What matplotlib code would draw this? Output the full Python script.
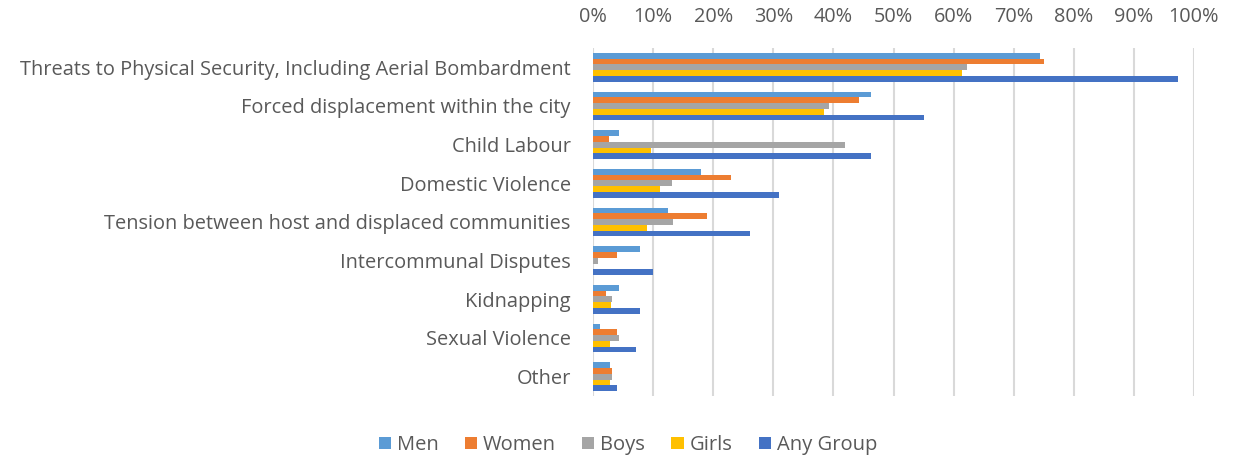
import matplotlib

matplotlib.use("Agg")
import matplotlib.pyplot as plt
import numpy as np
from matplotlib.ticker import PercentFormatter

categories = [
    "Threats to Physical Security, Including Aerial Bombardment",
    "Forced displacement within the city",
    "Child Labour",
    "Domestic Violence",
    "Tension between host and displaced communities",
    "Intercommunal Disputes",
    "Kidnapping",
    "Sexual Violence",
    "Other",
]
series_names = ["Men", "Women", "Boys", "Girls", "Any Group"]
men = [74.3, 46.2, 4.4, 18.0, 12.5, 7.9, 4.3, 1.1, 2.8]
women = [75.0, 44.3, 2.6, 23.0, 19.0, 4.0, 2.2, 4.0, 3.2]
boys = [62.2, 39.2, 42.0, 13.1, 13.3, 0.9, 3.1, 4.4, 3.2]
girls = [61.4, 38.4, 9.6, 11.2, 9.0, 0.0, 3.0, 2.8, 2.8]
any_group = [97.3, 55.0, 46.2, 31.0, 26.1, 10.0, 7.9, 7.1, 4.0]

colors = ["#5B9BD5", "#ED7D31", "#A5A5A5", "#FFC000", "#4472C4"]
text_color = "#595959"

plt.rcParams["font.family"] = ["Open Sans", "DejaVu Sans"]

fig = plt.figure(figsize=(12.36, 4.57), dpi=100)
ax = fig.add_axes([593 / 1236, 1 - 396 / 457, 601 / 1236, 348 / 457])

n = len(categories)
y = np.arange(n)
bar_h = 0.147
values = [men, women, boys, girls, any_group]
for i, (name, vals, c) in enumerate(zip(series_names, values, colors)):
    offset = (i - 2) * bar_h
    ax.barh(y + offset, vals, height=bar_h, color=c, label=name, zorder=3)

ax.set_ylim(n - 0.5, -0.5)
ax.set_xlim(0, 100)
ax.set_xticks(np.arange(0, 101, 10))
ax.xaxis.set_major_formatter(PercentFormatter(decimals=0))
ax.xaxis.tick_top()
ax.set_yticks(y)
ax.set_yticklabels(categories)
ax.tick_params(axis="x", length=0, pad=15, labelsize=14.3, labelcolor=text_color)
ax.tick_params(axis="y", length=0, pad=16, labelsize=14.4, labelcolor=text_color)
ax.grid(axis="x", color="#D9D9D9", linewidth=1.5, zorder=0)
for s in ax.spines.values():
    s.set_visible(False)

fig.legend(loc="center", bbox_to_anchor=(628 / 1236, 1 - 445 / 457), ncol=5,
           frameon=False, fontsize=14.5, labelcolor=text_color,
           handlelength=0.6, handleheight=0.6, handletextpad=0.3, columnspacing=1.3)

plt.savefig("out.png", dpi=100)
plt.close()
